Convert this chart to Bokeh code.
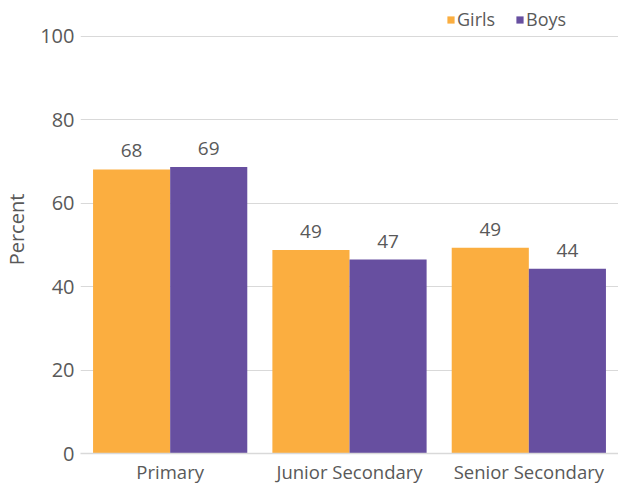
from bokeh.plotting import figure
from bokeh.models import ColumnDataSource, FactorRange, Range1d, FixedTicker, Legend, LegendItem, LabelSet
from bokeh.transform import dodge
from bokeh.core.properties import value
from bokeh.embed import file_html
from bokeh.resources import INLINE

categories = ["Primary", "Junior Secondary", "Senior Secondary"]
girls = [68.1, 48.8, 49.3]
boys = [68.7, 46.5, 44.3]
girls_labels = ["68", "49", "49"]
boys_labels = ["69", "47", "44"]
y_ticks = [0, 20, 40, 60, 80, 100]

FONT = "Open Sans"
TXT = "#595959"
ORANGE = "#FBAE40"
PURPLE = "#674FA0"

src = ColumnDataSource(dict(cat=categories, girls=girls, boys=boys,
                            gl=girls_labels, bl=boys_labels))

p = figure(x_range=FactorRange(factors=categories, range_padding=0),
           y_range=Range1d(0, 107.4),
           width=618, height=486, output_backend="svg", toolbar_location=None,
           min_border_left=80, min_border_right=0, min_border_top=5, min_border_bottom=31)
p.outline_line_color = None

w = 0.43
rg = p.vbar(x=dodge("cat", -w / 2, range=p.x_range), top="girls", width=w, source=src,
            fill_color=ORANGE, line_color=None)
rb = p.vbar(x=dodge("cat", w / 2, range=p.x_range), top="boys", width=w, source=src,
            fill_color=PURPLE, line_color=None)

for col, lab, off in (("girls", "gl", -w / 2), ("boys", "bl", w / 2)):
    ls = LabelSet(x=dodge("cat", off, range=p.x_range), y=col, text=lab, source=src,
                  text_align="center", text_baseline="bottom", y_offset=12,
                  text_font=value(FONT), text_font_size="19px", text_color=TXT)
    p.add_layout(ls)

p.yaxis.ticker = FixedTicker(ticks=y_ticks)
p.yaxis.axis_label = "Percent"
p.yaxis.axis_label_text_font = FONT
p.yaxis.axis_label_text_font_style = "normal"
p.yaxis.axis_label_text_font_size = "20px"
p.yaxis.axis_label_text_color = TXT
p.yaxis.axis_label_standoff = 7
p.yaxis.axis_line_color = None
p.yaxis.major_tick_line_color = None
p.yaxis.major_tick_out = 0
p.yaxis.major_tick_in = 0
p.yaxis.minor_tick_line_color = None
p.yaxis.major_label_text_font = FONT
p.yaxis.major_label_text_font_size = "20px"
p.yaxis.major_label_text_color = TXT
p.yaxis.major_label_standoff = 6

p.xaxis.axis_line_color = "#d9d9d9"
p.xaxis.axis_line_width = 1.5
p.xaxis.major_tick_line_color = None
p.xaxis.major_tick_out = 0
p.xaxis.major_tick_in = 0
p.xaxis.minor_tick_line_color = None
p.xaxis.major_label_text_font = FONT
p.xaxis.major_label_text_font_size = "18.5px"
p.xaxis.major_label_text_color = TXT
p.xaxis.major_label_standoff = 5

p.xgrid.grid_line_color = None
p.ygrid.grid_line_color = "#d9d9d9"
p.ygrid.grid_line_width = 1

legend = Legend(items=[LegendItem(label="Girls", renderers=[rg]),
                       LegendItem(label="Boys", renderers=[rb])],
                orientation="horizontal", location=(366, 422),
                glyph_width=9, glyph_height=9, padding=2, margin=0, spacing=20,
                label_standoff=2, label_text_font=FONT, label_text_font_size="18px",
                label_text_color=TXT, border_line_color=None, background_fill_alpha=0)
p.add_layout(legend)

open("out.html", "w").write(file_html(p, INLINE))
